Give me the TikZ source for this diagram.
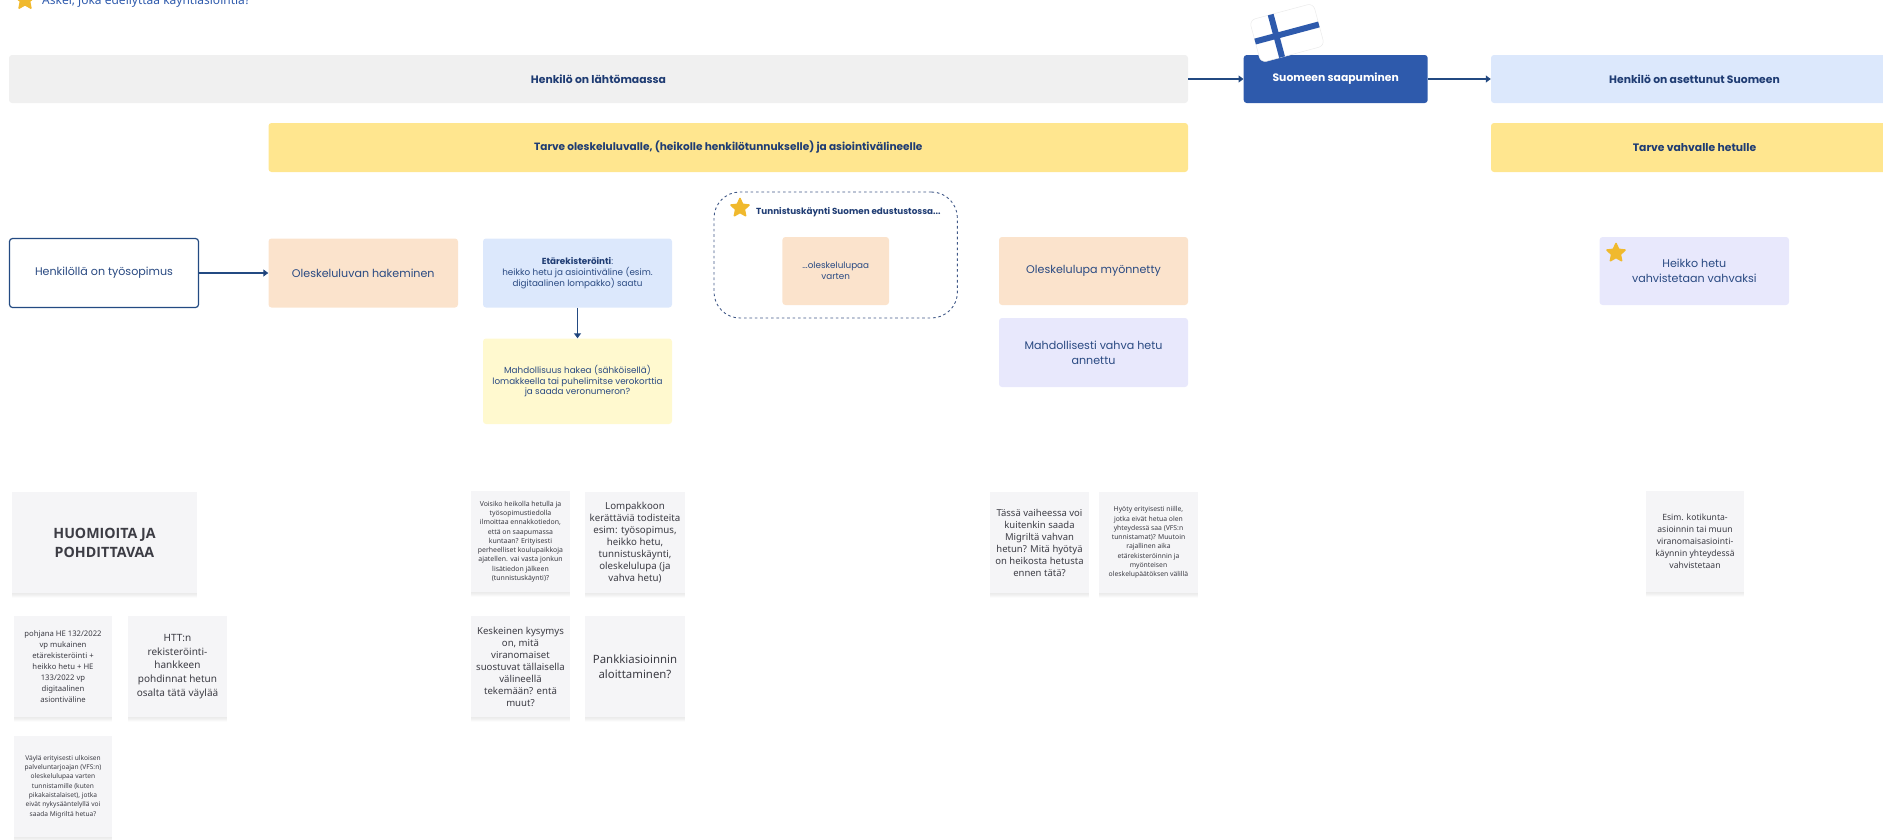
\documentclass[tikz,border=0pt]{standalone}
\usepackage{fontspec}
\setmainfont{Poppins}
\newfontfamily\notef{Noto Sans}
\newfontfamily\openf{Open Sans}
\usetikzlibrary{arrows.meta,shapes.geometric,shadows}
\definecolor{navy}{HTML}{1F3C73}
\definecolor{regt}{HTML}{2A4A82}
\definecolor{linec}{HTML}{234A82}
\definecolor{grayc}{HTML}{F0F0F0}
\definecolor{yellowc}{HTML}{FFE68F}
\definecolor{paleY}{HTML}{FFF9CF}
\definecolor{orangec}{HTML}{FBE3CC}
\definecolor{bluec}{HTML}{DCE8FC}
\definecolor{lavc}{HTML}{E8E8FC}
\definecolor{darkb}{HTML}{2E5AAC}
\definecolor{stickyc}{HTML}{F5F5F7}
\definecolor{stickyt}{HTML}{3C3C44}
\definecolor{goldc}{HTML}{F0B92D}
\newcommand{\fs}[2]{\fontsize{#1}{#2}\selectfont}
\tikzset{
  x=1pt,y=-1pt,
  boxn/.style={rounded corners=3pt,inner sep=0pt,align=center,text=regt,anchor=center},
  headn/.style={boxn,text=navy,font=\bfseries\fs{10.8}{15}},
  sticky/.style={boxn,fill=stickyc,text=stickyt,font=\notef,
    general shadow={fill=black,opacity=.012,shadow yshift=-1pt},
    general shadow={fill=black,opacity=.015,shadow yshift=-2pt},
    general shadow={fill=black,opacity=.018,shadow yshift=-3pt},
    general shadow={fill=black,opacity=.018,shadow yshift=-4pt},
    general shadow={fill=black,opacity=.012,shadow yshift=-5pt},
    rounded corners=0pt},
  arr/.style={draw=linec,line width=1.1pt,-{Triangle[length=5pt,width=7pt,fill=navy]}},
  starn/.style={star,star points=5,star point ratio=2.1,fill=goldc,draw=goldc,line width=1.6pt,line join=round,inner sep=0pt,minimum size=#1},
}
\begin{document}
\begin{tikzpicture}
\useasboundingbox (0,0) rectangle (1883,839);
% legend
\node[starn=20pt] (legendstar) at (25,0) {};
\node[anchor=west,inner sep=0pt,text=darkb,font=\notef\fs{12}{14}] (legend) at (42,1.5) {Askel, joka edellyttää käyntiasiointia?};
% bars
\node[headn,fill=grayc,minimum width=1179pt,minimum height=48pt] (gray) at (598.5,79) {Henkilö on lähtömaassa};
\node[headn,fill=darkb,text=white,minimum width=184pt,minimum height=48pt] (suomi) at (1335.7,79) {Suomeen saapuminen};
\node[headn,fill=bluec,minimum width=407pt,minimum height=48pt] (settled) at (1694.5,79) {Henkilö on asettunut Suomeen};
\node[headn,fill=yellowc,minimum width=919.5pt,minimum height=49pt,font=\bfseries\fs{10.55}{15}] (need) at (728.25,147.5) {Tarve oleskeluluvalle, (heikolle henkilötunnukselle) ja asiointivälineelle};
\node[headn,fill=yellowc,minimum width=407pt,minimum height=49pt] (needb) at (1694.5,147.5) {Tarve vahvalle hetulle};
% row
\node[boxn,draw=linec,line width=1.2pt,fill=white,minimum width=189pt,minimum height=69pt,font=\fs{11.1}{15}] (contract) at (104,273) {Henkilöllä on työsopimus};
\node[boxn,fill=orangec,minimum width=189.5pt,minimum height=69pt,font=\fs{11.1}{15}] (apply) at (363.25,273) {Oleskeluluvan hakeminen};
\node[boxn,fill=bluec,minimum width=189pt,minimum height=69pt,font=\fs{8.8}{10.7}] (etarek) at (577.5,273) {{\bfseries\color{navy}Etärekisteröinti}:\\heikko hetu ja asiointiväline (esim.\\digitaalinen lompakko) saatu};
\node[boxn,fill=paleY,minimum width=189pt,minimum height=85.5pt,font=\fs{8.8}{10.7}] (tax) at (577.5,381.25) {Mahdollisuus hakea (sähköisellä)\\lomakkeella tai puhelimitse verokorttia\\ja saada veronumeron?};
% dashed group
\node[draw=navy!85!white,line width=.9pt,dash pattern=on 2.6pt off 2.8pt,rounded corners=26pt,minimum width=243.4pt,minimum height=126pt,inner sep=0pt] (group) at (835.7,255) {};
\node[starn=19pt] (groupstar) at (740,208) {};
\node[anchor=west,inner sep=0pt,text=navy,font=\bfseries\fs{8.8}{11}] (grouptitle) at (756,212.5) {Tunnistuskäynti Suomen edustustossa...};
\node[boxn,fill=orangec,minimum width=106.6pt,minimum height=68pt,font=\fs{8.8}{10.7}] (forpermit) at (835.7,271) {...oleskelulupaa\\varten};
\node[boxn,fill=orangec,minimum width=189pt,minimum height=68pt,font=\fs{11.1}{15}] (granted) at (1093.5,271) {Oleskelulupa myönnetty};
\node[boxn,fill=lavc,minimum width=189pt,minimum height=69pt,font=\fs{11.1}{15}] (strong) at (1093.5,352.5) {Mahdollisesti vahva hetu\\annettu};
\node[boxn,fill=lavc,minimum width=189.4pt,minimum height=68pt,font=\fs{11.1}{15}] (confirm) at (1694.3,271) {Heikko hetu\\vahvistetaan vahvaksi};
\node[starn=19pt] (confstar) at (1616,253) {};
% arrows
\draw[arr] (gray.east) -- (suomi.west);
\draw[arr] (suomi.east) -- (settled.west);
\draw[arr] (contract.east) -- (apply.west);
\draw[arr] (etarek.south) -- (tax.north);
% flag
\begin{scope}[shift={(1287,33)},rotate=15]
\fill[white,draw=black!8,line width=.5pt,rounded corners=6pt] (-33,-22) rectangle (33,22);
\fill[darkb] (-33,-3) rectangle (33,3);
\fill[darkb] (-14,-22) rectangle (-8,22);
\end{scope}
% stickies
\node[sticky,minimum width=185pt,minimum height=101pt,font=\openf\bfseries\fs{14.2}{19}] (s1) at (104.5,542.5) {HUOMIOITA JA\\POHDITTAVAA};
\node[sticky,minimum width=98pt,minimum height=101pt,font=\notef\fs{7.7}{11}] (s2) at (63,666.5) {pohjana HE 132/2022\\vp mukainen\\etärekisteröinti +\\heikko hetu + HE\\133/2022 vp\\digitaalinen\\asiontiväline};
\node[sticky,minimum width=99pt,minimum height=101pt,font=\notef\fs{10}{13.7}] (s3) at (177.5,666.5) {HTT:n\\rekisteröinti-\\hankkeen\\pohdinnat hetun\\osalta tätä väylää};
\node[sticky,minimum width=98pt,minimum height=101pt,font=\notef\fs{6.6}{9.3}] (s4) at (63,786.5) {Väylä erityisesti ulkoisen\\palveluntarjoajan (VFS:n)\\oleskelulupaa varten\\tunnistamille (kuten\\pikakaistalaiset), jotka\\eivät nykysääntelyllä voi\\saada Migriltä hetua?};
\node[sticky,minimum width=99pt,minimum height=101pt,font=\notef\fs{6.9}{9.3}] (s5) at (520.5,541.5) {Voisiko heikolla hetulla ja\\työsopimustiedolla\\ilmoittaa ennakkotiedon,\\että on saapumassa\\kuntaan? Erityisesti\\perheelliset koulupaikkoja\\ajatellen. vai vasta jonkun\\lisätiedon jälkeen\\(tunnistuskäynti)?};
\node[sticky,minimum width=100pt,minimum height=101pt,font=\notef\fs{9.7}{12}] (s6) at (635,542.5) {Lompakkoon\\kerättäviä todisteita\\esim: työsopimus,\\heikko hetu,\\tunnistuskäynti,\\oleskelulupa (ja\\vahva hetu)};
\node[sticky,minimum width=99pt,minimum height=101pt,font=\notef\fs{9.6}{12}] (s7) at (520.5,666.5) {Keskeinen kysymys\\on, mitä\\viranomaiset\\suostuvat tällaisella\\välineellä\\tekemään? entä\\muut?};
\node[sticky,minimum width=100pt,minimum height=101pt,font=\notef\fs{11.4}{15.5}] (s8) at (635,666.5) {Pankkiasioinnin\\aloittaminen?};
\node[sticky,minimum width=99pt,minimum height=101pt,font=\notef\fs{9.5}{12}] (s9) at (1039.5,542.5) {Tässä vaiheessa voi\\kuitenkin saada\\Migriltä vahvan\\hetun? Mitä hyötyä\\on heikosta hetusta\\ennen tätä?};
\node[sticky,minimum width=99pt,minimum height=101pt,font=\notef\fs{6.8}{9.3}] (s10) at (1148.5,542.5) {Hyöty erityisesti niille,\\jotka eivät hetua olen\\yhteydessä saa (VFS:n\\tunnistamat)? Muutoin\\rajallinen aika\\etärekisteröinnin ja\\myönteisen\\oleskelupäätöksen välillä};
\node[sticky,minimum width=98pt,minimum height=101pt,font=\notef\fs{8.6}{12}] (s11) at (1695,541.5) {Esim. kotikunta-\\asioinnin tai muun\\viranomaisasiointi-\\käynnin yhteydessä\\vahvistetaan};
\end{tikzpicture}
\end{document}
